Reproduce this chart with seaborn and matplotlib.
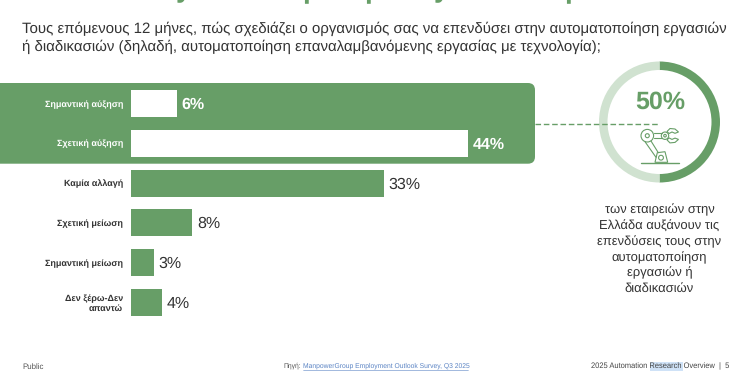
import matplotlib
matplotlib.use('Agg')
import matplotlib.pyplot as plt
import seaborn as sns
from matplotlib.patches import FancyBboxPatch, Circle, Polygon, Rectangle

categories = ['Σημαντική αύξηση', 'Σχετική αύξηση', 'Καμία αλλαγή', 'Σχετική μείωση',
              'Σημαντική μείωση', 'Δεν ξέρω-Δεν\nαπαντώ']
values = [6, 44, 33, 8, 3, 4]
ring_values = [50, 50]
question = ['Τους επόμενους 12 μήνες, πώς σχεδιάζει ο οργανισμός σας να επενδύσει στην αυτοματοποίηση εργασιών',
            'ή διαδικασιών (δηλαδή, αυτοματοποίηση επαναλαμβανόμενης εργασίας με τεχνολογία);']
note = ['των εταιρειών στην', 'Ελλάδα αυξάνουν τις', 'επενδύσεις τους στην',
        'αυτοματοποίηση', 'εργασιών ή', 'διαδικασιών']

GREEN = '#679e67'
LIGHT = '#d0e2d0'
DARK = '#333333'
W, H = 752, 382

sns.set_theme(style='white')
plt.rcParams['font.family'] = ['Liberation Sans', 'DejaVu Sans']
plt.rcParams['text.hinting'] = 'no_hinting'

fig = plt.figure(figsize=(W / 100, H / 100), dpi=100, facecolor='white')

# background layer in pixel coordinates
bg = fig.add_axes([0, 0, 1, 1], zorder=0)

# green panel behind the first two bars
bg.add_patch(FancyBboxPatch((-20, 83), 555, 80.7, boxstyle='round,pad=0,rounding_size=7',
                            fc=GREEN, ec='none'))

# ring
bg.pie(ring_values, colors=[GREEN, LIGHT], center=(659.5, 122), radius=60.5, startangle=90,
       counterclock=False, wedgeprops=dict(width=8.5, linewidth=0), frame=True)
bg.set_aspect('auto')
bg.set_xlim(0, W)
bg.set_ylim(H, 0)
bg.axis('off')

# dashed connector
bg.plot([535, 659], [123.5, 123.5], color=GREEN, lw=1, ls=(0, (4, 2)))
bg.text(660, 102, '50%', color=GREEN, fontsize=18, fontweight='bold', ha='center', va='center')

# robot icon
icon = dict(fc='none', ec=GREEN, lw=0.8)
bg.plot([640.5, 679], [162.7, 162.7], color=GREEN, lw=1)
bg.add_patch(Polygon([(655, 162.3), (657.3, 152.7), (665, 151.7), (667.7, 162.3)], **icon))
for cx, cy, r in [(661, 157.7, 2.4), (647.3, 135.7, 6.3), (647.3, 135.7, 2), (665, 135.7, 3.7), (665, 135.7, 1.3)]:
    bg.add_patch(Circle((cx, cy), r, **icon))
for xs, ys in [([645, 656], [141.7, 157.3]), ([651, 658.3], [141, 152.7]),
               ([653.5, 661.5], [133.3, 133.3]), ([653.5, 661.5], [138, 138])]:
    bg.plot(xs, ys, color=GREEN, lw=0.8)
claw = [(667, 131.5), (670, 128.5), (675, 129), (678.5, 132), (675, 133.3), (672, 132), (669, 133.5)]
bg.add_patch(Polygon(claw, **icon))
bg.add_patch(Polygon([(x, 271.4 - y) for x, y in claw], **icon))

# tails of the cut-off heading
for ch, x in [('y', 184), ('p', 311), ('p', 373), ('y', 441), ('p', 573)]:
    bg.text(x, -3.2, ch, color=GREEN, fontsize=20, fontweight='bold', ha='center', va='baseline')

# question
for txt, y in zip(question, [29, 47]):
    bg.text(22, y, txt, color=DARK, fontsize=10.82, ha='left', va='center')

# side note
for txt, y in zip(note, [210, 226, 241.5, 257.5, 273, 288.5]):
    bg.text(659.5, y, txt, color=DARK, fontsize=9.4, ha='center', va='center')

# footer
bg.text(22, 367, 'Public', color='#555555', fontsize=5.7, ha='left', va='center')
bg.text(283, 366, 'Πηγή:', color='#555555', fontsize=4.85, ha='left', va='center')
bg.text(303, 366, 'ManpowerGroup Employment Outlook Survey, Q3 2025', color='#5b84c4', fontsize=4.85,
        ha='left', va='center')
bg.plot([303, 468], [369.5, 369.5], color='#5b84c4', lw=0.4)
bg.add_patch(Rectangle((650, 362), 33, 9, fc='#cfe2f7', ec='none'))
bg.text(591, 366.5, '2025 Automation Research Overview  |  5', color='#444444', fontsize=5.43,
        ha='left', va='center')

# bars
ax_left, ax_top, ax_bottom = 131, 83.6, 322.4
ax = fig.add_axes([ax_left / W, 1 - ax_bottom / H, (W - ax_left) / W, (ax_bottom - ax_top) / H], zorder=1)
ax.patch.set_alpha(0)
sns.barplot(x=values, y=categories, color=GREEN, saturation=1, width=0.678, linewidth=0, ax=ax)
ax.set_xlim(0, (W - ax_left) / 7.67)
ax.set_xticks([])
ax.set(xlabel='', ylabel='')
sns.despine(ax=ax, left=True, bottom=True)
ax.tick_params(axis='y', length=0, pad=5.8)

for i, lab in enumerate(ax.get_yticklabels()):
    lab.set_fontsize(6.45)
    lab.set_fontweight('bold')
    lab.set_multialignment('right')
    lab.set_color('white' if i < 2 else DARK)

bars = ax.containers[0]
labels = ax.bar_label(bars, fmt='%g%%', padding=3.4)
for i, (bar, t) in enumerate(zip(bars, labels)):
    t.set_fontsize(11.5)
    t.xyann = (t.xyann[0], -0.8)
    if i < 2:
        bar.set_facecolor('white')
        t.set_color('white')
        t.set_fontweight('bold')
    else:
        t.set_color(DARK)

fig.savefig('out.png', dpi=100)
